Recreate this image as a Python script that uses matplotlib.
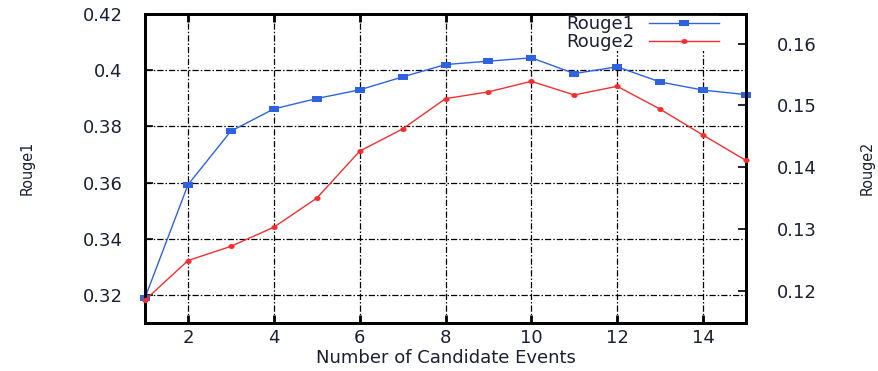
import matplotlib
matplotlib.use("Agg")
import matplotlib.pyplot as plt
from matplotlib.path import Path
import numpy as np

# Number of candidate events and the ROUGE scores obtained
candidates = [1, 2, 3, 4, 5, 6, 7, 8, 9, 10, 11, 12, 13, 14, 15]
rouge1 = [0.3190, 0.3592, 0.3783, 0.3862, 0.3899, 0.3930, 0.3976, 0.4020,
          0.4032, 0.4044, 0.3988, 0.4012, 0.3958, 0.3929, 0.3913]
rouge2 = [0.1185, 0.1249, 0.1272, 0.1303, 0.1350, 0.1426, 0.1462, 0.1511,
          0.1522, 0.1539, 0.1517, 0.1531, 0.1494, 0.1452, 0.1411]

x_ticks = [2, 4, 6, 8, 10, 12, 14]
left_ticks = [0.32, 0.34, 0.36, 0.38, 0.40, 0.42]
left_labels = ["0.32", "0.34", "0.36", "0.38", "0.4", "0.42"]
right_ticks = [0.12, 0.13, 0.14, 0.15, 0.16]
right_labels = ["0.12", "0.13", "0.14", "0.15", "0.16"]

plt.rcParams["font.family"] = ["DejaVu Sans"]
text_color = "#1c1f33"
blue = "#2f62e0"
red = "#f23030"

# wide rectangle and flattened dot markers
rect = Path([(-1, -0.6), (1, -0.6), (1, 0.6), (-1, 0.6), (-1, -0.6)],
            [Path.MOVETO, Path.LINETO, Path.LINETO, Path.LINETO, Path.CLOSEPOLY])
t = np.linspace(0, 2 * np.pi, 40)
oval = Path(np.column_stack([np.cos(t), 0.8 * np.sin(t)]), closed=True)

fig = plt.figure(figsize=(8.79, 3.71), dpi=100)
ax = fig.add_axes([0.165, 0.1294, 0.6837, 0.8329])
ax2 = ax.twinx()

grid_style = (0, (5, 1.6, 1.2, 1.6))
for xv in x_ticks:
    ax.axvline(xv, color="black", lw=0.9, ls=grid_style, zorder=1)
for yv in left_ticks[:-1]:
    ax.axhline(yv, color="black", lw=0.9, ls=grid_style, zorder=1)

l1, = ax.plot(candidates, rouge1, color=blue, lw=1.0, marker=rect,
              markersize=7.5, markerfacecolor=blue, markeredgecolor=blue,
              markeredgewidth=0, label="Rouge1", zorder=3, clip_on=False)
l2, = ax2.plot(candidates, rouge2, color=red, lw=1.0, marker=oval,
               markersize=4.5, markerfacecolor=red, markeredgecolor=red,
               markeredgewidth=0, label="Rouge2", zorder=3, clip_on=False)

ax.set_xlim(1, 15)
ax.set_ylim(0.31, 0.42)
ax2.set_ylim(0.1148, 0.1648)

ax.set_xticks(x_ticks)
ax.set_xticklabels([str(v) for v in x_ticks])
ax.set_yticks(left_ticks)
ax.set_yticklabels(left_labels)
ax2.set_yticks(right_ticks)
ax2.set_yticklabels(right_labels)

ax.tick_params(axis="x", direction="in", length=6, width=2, top=True,
               pad=4, labelsize=13, labelcolor=text_color)
ax.tick_params(axis="y", direction="in", length=6, width=1.2, right=False,
               pad=16, labelsize=13, labelcolor=text_color)
ax2.tick_params(axis="y", direction="in", length=6, width=1.2,
                pad=22, labelsize=13, labelcolor=text_color)

for a in (ax, ax2):
    for s in a.spines.values():
        s.set_linewidth(2)
        s.set_color("black")

ax.set_xlabel("Number of Candidate Events", fontsize=13, color=text_color,
              labelpad=2)
fig.text(27 / 879, 1 - 168 / 371, "Rouge1", rotation=90, fontsize=11.5,
         fontstretch="condensed", color=text_color, ha="center", va="center")
fig.text(867 / 879, 1 - 168 / 371, "Rouge2", rotation=90, fontsize=11.5,
         fontstretch="condensed", color=text_color, ha="center", va="center")

leg = ax2.legend(handles=[l1, l2], loc="upper right",
                 bbox_to_anchor=(0.97, 1.025), markerfirst=False,
                 fontsize=13, handlelength=3.9, handletextpad=0.8,
                 labelspacing=0.0, borderpad=0.0, frameon=True,
                 fancybox=False, framealpha=1.0)
leg.get_frame().set_edgecolor("none")
leg.get_frame().set_facecolor("white")
for txt in leg.get_texts():
    txt.set_color(text_color)
# keep the key box under the frame lines
leg.set_zorder(2)

fig.savefig("out.png", dpi=100)
